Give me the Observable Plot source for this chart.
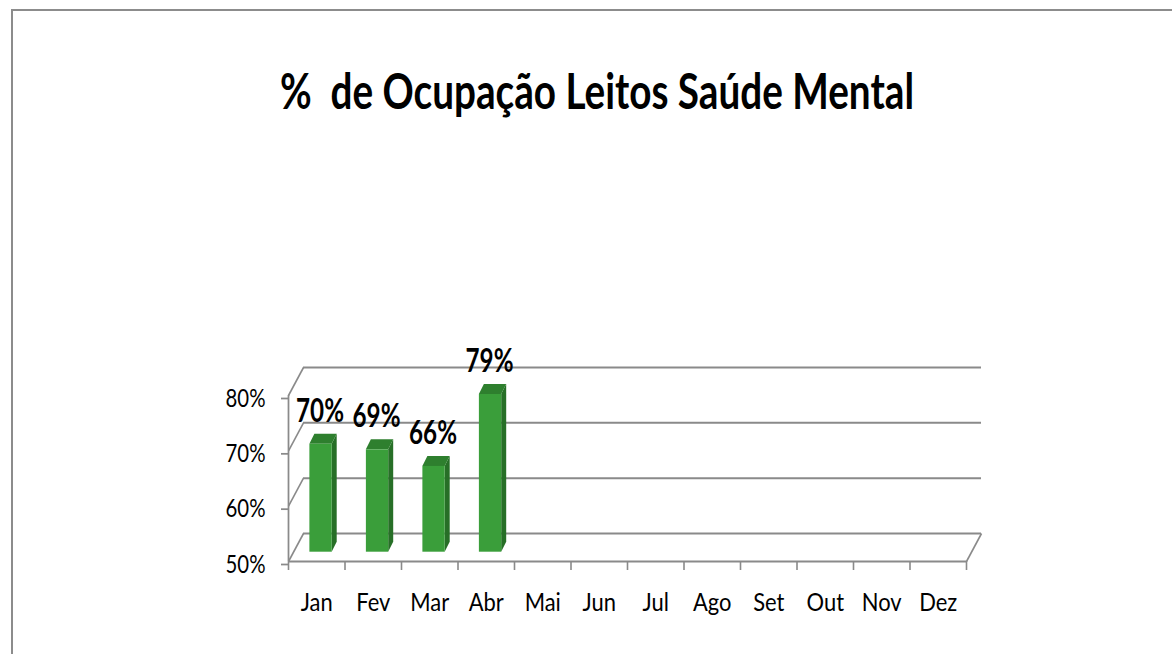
<!DOCTYPE html>
<html>
<head>
<meta charset="utf-8">
<script src="https://cdn.jsdelivr.net/npm/d3@7"></script>
<script src="https://cdn.jsdelivr.net/npm/@observablehq/plot@0.6"></script>
<style>
  html, body { margin: 0; padding: 0; background: #fff; width: 1172px; height: 654px; overflow: hidden; }
  #frame { position: absolute; left: 11px; top: 9px; width: 1400px; height: 900px;
           border-top: 2px solid #8c8c8c; border-left: 2px solid #8c8c8c; }
  #title { position: absolute; left: 597px; top: 66px; white-space: pre; }
  #title span { display: inline-block; font-family: Lato, "Open Sans", sans-serif; font-weight: 700;
                font-size: 49px; line-height: 49px; color: #000; transform-origin: center; }
  #chart { position: absolute; left: 0; top: 0; }
</style>
</head>
<body>
<div id="frame"></div>
<div id="title"><span id="titleText">%  de Ocupação Leitos Saúde Mental</span></div>
<div id="chart"></div>
<script>
// ---- data ----
const months = ["Jan", "Fev", "Mar", "Abr", "Mai", "Jun", "Jul", "Ago", "Set", "Out", "Nov", "Dez"];
const valueMonths = ["Jan", "Fev", "Mar", "Abr"];
const values = [69.5, 68.5, 65.5, 78.5];
const yTicks = [50, 60, 70, 80];
const yTickLabels = ["50%", "60%", "70%", "80%"];

// ---- layout ----
const W = 1172, H = 654;
const M = {top: 395, right: 206, bottom: 93, left: 288};
const pxX = (W - M.left - M.right) / months.length;   // px per month band
const pxY = (H - M.top - M.bottom) / (yTicks[yTicks.length - 1] - yTicks[0]); // px per %
const wallDX = 15 / pxX, wallDY = 28 / pxY;            // depth of the 3D box in data units
const capDX = 5 / pxX, capDY = 10 / pxY;               // depth of each bar
const barL = 0.29, barR = 0.685;                       // bar position inside its band
const grid = "#8a8a8a";
const greenFront = "#3a9e3a", greenTop = "#2e7f2e", greenSide = "#276f27";

const bars = valueMonths.map((m, k) => ({m, i: months.indexOf(m), v: values[k]}));
const base = yTicks[0];
const sideData = bars.flatMap(b => [
  {m: b.m, x: b.i + barR, y1: base, y2: b.v},
  {m: b.m, x: b.i + barR + capDX, y1: base + capDY, y2: b.v + capDY}
]);
const topData = bars.flatMap(b => [
  {m: b.m, y: b.v, x1: b.i + barL, x2: b.i + barR},
  {m: b.m, y: b.v + capDY, x1: b.i + barL + capDX, x2: b.i + barR + capDX}
]);
const last = months.length;

const chart = Plot.plot({
  width: W, height: H,
  marginTop: M.top, marginRight: M.right, marginBottom: M.bottom, marginLeft: M.left,
  x: {domain: [0, last]},
  y: {domain: [yTicks[0], yTicks[yTicks.length - 1]]},
  style: {fontFamily: "Lato, 'Open Sans', sans-serif", fontSize: "25px", color: "#000", background: "transparent", overflow: "visible"},
  marks: [
    // back wall gridlines
    Plot.ruleY(yTicks, {x1: wallDX, x2: last + wallDX, y: d => d + wallDY, stroke: grid, strokeWidth: 2}),
    // left wall diagonals
    Plot.link(yTicks, {x1: 0, y1: d => d, x2: wallDX, y2: d => d + wallDY, stroke: grid, strokeWidth: 1.6}),
    // right floor diagonal
    Plot.link([base], {x1: last, y1: d => d, x2: last + wallDX, y2: d => d + wallDY, stroke: grid, strokeWidth: 1.6}),
    // front axis lines
    Plot.ruleX([0], {y1: yTicks[0], y2: yTicks[yTicks.length - 1], stroke: grid, strokeWidth: 1.75}),
    Plot.ruleY([base], {x1: 0, x2: last, stroke: grid, strokeWidth: 2}),
    Plot.axisY(yTicks, {tickSize: 7, tickPadding: 16, dy: 3, stroke: grid, strokeWidth: 1.75, fill: "#000",
      tickFormat: d => yTickLabels[yTicks.indexOf(d)], fontSize: 25}),
    Plot.axisX(d3.range(last + 1), {tickSize: 9, stroke: grid, strokeWidth: 1.6, tickFormat: () => ""}),
    Plot.axisX(months.map((m, i) => i + 0.5), {tickSize: 0, tickPadding: 32, fill: "#000",
      tickFormat: d => months[Math.floor(d)], fontSize: 25}),
    // bars (3D)
    Plot.areaY(sideData, {x: "x", y1: "y1", y2: "y2", z: "m", fill: greenSide, dx: 5, dy: -9.3}),
    Plot.areaX(topData, {y: "y", x1: "x1", x2: "x2", z: "m", fill: greenTop, dx: 5, dy: -9.3}),
    Plot.rect(bars, {x1: d => d.i + barL, x2: d => d.i + barR, y1: base, y2: "v", fill: greenFront, dx: 5, dy: -9.3}),
    // value labels
    Plot.text(bars, {x: d => d.i + (barL + barR) / 2, y: "v", text: d => Math.round(d.v) + "%",
      dx: 4, dy: -32, lineAnchor: "bottom", fontWeight: "bold", fontSize: 32, fill: "#000"})
  ]
});
document.getElementById("chart").appendChild(chart);

// condense text horizontally (the reference typeface is narrow and tall)
const allTexts = Array.from(chart.querySelectorAll("text"));
const inAxis = (t, k) => { const g = t.closest("g[aria-label]"); return g && (g.getAttribute("aria-label") || "").startsWith(k); };
const yLabels = allTexts.filter(t => inAxis(t, "y-axis"));
const xLabels = allTexts.filter(t => inAxis(t, "x-axis") && t.textContent !== "");
const valueLabels = allTexts.filter(t => !inAxis(t, "y-axis") && !inAxis(t, "x-axis"));
function squeeze(texts, sample, target) {
  const ref = texts.find(t => t.textContent === sample);
  if (!ref) return;
  const s = target / ref.getComputedTextLength();
  texts.forEach(t => t.setAttribute("transform", (t.getAttribute("transform") || "") + ` scale(${s},1)`));
}
squeeze(yLabels, "80%", 40);
squeeze(xLabels, "Jan", 32);
squeeze(valueLabels, "70%", 48);

const tt = document.getElementById("titleText");
const ts = 634 / tt.getBoundingClientRect().width;
tt.style.transform = `translateX(-50%) scaleX(${ts})`;
</script>
</body>
</html>
